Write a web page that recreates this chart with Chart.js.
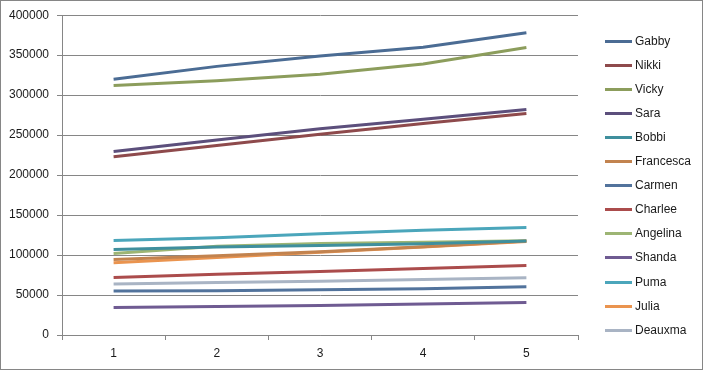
<!DOCTYPE html>
<html>
<head>
    <title>Totals</title>
    <script src="https://cdn.jsdelivr.net/npm/chart.js"></script>
    <style>
        html, body { margin: 0; padding: 0; background: #fff; }
        #wrap { width: 703px; height: 370px; }
    </style>
</head>
<body>
    <div id="wrap"><canvas id="lineChart"></canvas></div>
    <script>
        // x categories and y ticks
        const periods = ['1', '2', '3', '4', '5'];
        const yMin = 0;
        const yMax = 400000;
        const yStep = 50000;

        // one array per person
        const names = ['Gabby', 'Nikki', 'Vicky', 'Sara', 'Bobbi', 'Francesca', 'Carmen',
                       'Charlee', 'Angelina', 'Shanda', 'Puma', 'Julia', 'Deauxma'];
        const gabby     = [320000, 336000, 349000, 360000, 378000];
        const nikki     = [223000, 237000, 251000, 264500, 277000];
        const vicky     = [312000, 318000, 326000, 339000, 359500];
        const sara      = [229500, 244000, 258000, 270000, 282000];
        const bobbi     = [107000, 110000, 112000, 114000, 117500];
        const francesca = [94500, 99000, 104000, 110500, 117500];
        const carmen    = [55000, 55500, 56700, 58000, 60500];
        const charlee   = [72000, 76000, 79500, 83300, 86800];
        const angelina  = [102000, 111000, 114500, 116000, 118000];
        const shanda    = [34500, 35500, 36800, 38700, 40500];
        const puma      = [118300, 121500, 126500, 131000, 134500];
        const julia     = [90500, 97000, 103500, 110000, 117000];
        const deauxma   = [63700, 65800, 67200, 69300, 71700];

        const seriesValues = [gabby, nikki, vicky, sara, bobbi, francesca, carmen,
                              charlee, angelina, shanda, puma, julia, deauxma];
        const seriesColors = ['#4b6c94', '#8e4a4c', '#8c9d5c', '#5c4f7c', '#3f8f9d', '#c2834f', '#52739c',
                              '#ab4c4c', '#9db574', '#6f5b92', '#4ba6bb', '#ea944f', '#a9b4c4'];

        const gray = '#868686';
        const font = { family: "'Liberation Sans', Arial, sans-serif", size: 12 };

        // grey frame round the whole chart
        const framePlugin = {
            id: 'frame',
            beforeDraw(chart) {
                const c = chart.ctx;
                c.save();
                c.fillStyle = '#fff';
                c.fillRect(0, 0, chart.width, chart.height);
                c.strokeStyle = gray;
                c.lineWidth = 1;
                c.strokeRect(0.5, 0.5, chart.width - 1, chart.height - 1);
                c.restore();
            }
        };

        // legend on the right, one row per series
        const sideLegend = {
            id: 'sideLegend',
            afterDraw(chart) {
                const c = chart.ctx;
                c.save();
                c.font = font.size + 'px ' + font.family;
                c.textBaseline = 'middle';
                c.textAlign = 'left';
                chart.data.datasets.forEach((ds, i) => {
                    const y = Math.round(40.5 + i * 24.1) + 0.5;
                    c.strokeStyle = ds.borderColor;
                    c.lineWidth = 3;
                    c.lineCap = 'butt';
                    c.beginPath();
                    c.moveTo(605, y);
                    c.lineTo(632, y);
                    c.stroke();
                    c.fillStyle = '#1a1a1a';
                    c.fillText(ds.label, 635, y);
                });
                c.restore();
            }
        };

        const datasets = names.map((name, i) => ({
            label: name,
            data: seriesValues[i],
            borderColor: seriesColors[i],
            backgroundColor: seriesColors[i],
            borderWidth: 3,
            pointRadius: 0,
            tension: 0,
            fill: false
        }));

        new Chart(document.getElementById('lineChart'), {
            type: 'line',
            data: { labels: periods, datasets: datasets },
            options: {
                responsive: true,
                maintainAspectRatio: false,
                animation: false,
                layout: { padding: { left: 0, top: 15, right: 125, bottom: 0 } },
                plugins: {
                    legend: { display: false },
                    tooltip: { enabled: false }
                },
                scales: {
                    x: {
                        offset: true,
                        grid: { offset: true, drawOnChartArea: false, drawTicks: true, tickLength: 5, color: gray },
                        border: { color: gray },
                        ticks: { color: '#1a1a1a', font: font, padding: 6 },
                        afterFit(scale) { scale.height = 35; }
                    },
                    y: {
                        min: yMin,
                        max: yMax,
                        grid: { color: gray, tickLength: 5 },
                        border: { color: gray },
                        ticks: {
                            stepSize: yStep,
                            color: '#1a1a1a',
                            font: font,
                            padding: 8,
                            callback: (value) => String(value)
                        },
                        afterFit(scale) { scale.width = 62; }
                    }
                }
            },
            plugins: [framePlugin, sideLegend]
        });
    </script>
</body>
</html>
